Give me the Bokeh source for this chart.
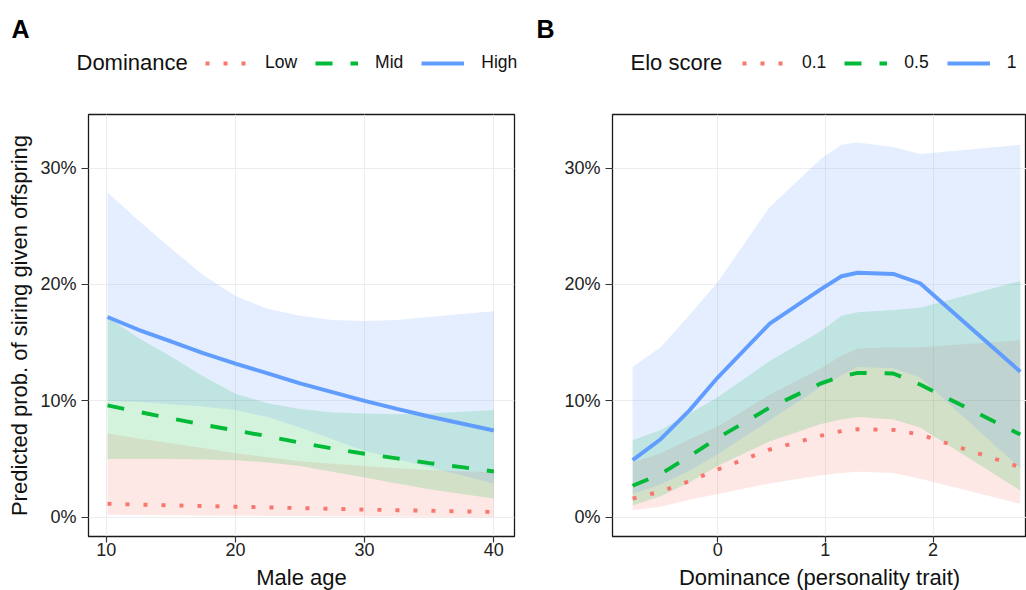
from bokeh.plotting import figure
from bokeh.models import (ColumnDataSource, Range1d, FixedTicker, NumeralTickFormatter,
                          Legend, LegendItem, Label)
from bokeh.layouts import row, column
from bokeh.embed import file_html
from bokeh.resources import INLINE

# ---------------- Panel A: male age ----------------
age = [10.1, 12.5, 15, 17.5, 20, 22.5, 25, 27.5, 30, 32.5, 35, 37.5, 40]
# predicted probability (%) and 95% band, by dominance level
a_low      = [1.15, 1.08, 1.02, 0.96, 0.90, 0.84, 0.78, 0.72, 0.65, 0.60, 0.55, 0.50, 0.45]
a_low_lo   = [0.20, 0.18, 0.16, 0.15, 0.13, 0.11, 0.10, 0.08, 0.06, 0.05, 0.03, 0.02, 0.00]
a_low_hi   = [7.20, 6.75, 6.35, 5.95, 5.50, 5.15, 4.80, 4.60, 4.40, 4.20, 4.05, 3.95, 3.87]
a_mid      = [9.60, 9.05, 8.50, 7.95, 7.45, 6.95, 6.40, 5.90, 5.45, 5.05, 4.65, 4.30, 3.93]
a_mid_lo   = [5.00, 5.00, 5.00, 4.95, 4.90, 4.70, 4.40, 3.90, 3.40, 2.90, 2.40, 2.00, 1.60]
a_mid_hi   = [17.2, 15.4, 13.8, 12.1, 10.6, 9.80, 9.30, 9.00, 8.90, 8.85, 8.90, 9.05, 9.20]
a_high     = [17.2, 16.1, 15.1, 14.1, 13.2, 12.35, 11.5, 10.75, 10.0, 9.30, 8.65, 8.05, 7.45]
a_high_lo  = [10.0, 9.90, 9.70, 9.50, 9.20, 8.60, 7.70, 6.70, 5.70, 5.00, 4.30, 3.60, 2.90]
a_high_hi  = [27.9, 25.5, 23.1, 20.8, 19.0, 17.9, 17.3, 16.95, 16.85, 16.95, 17.2, 17.45, 17.7]
a_levels = ["Low", "Mid", "High"]

# ---------------- Panel B: dominance trait ----------------
dom = [-0.79, -0.53, -0.26, 0.0, 0.48, 0.96, 1.15, 1.30, 1.63, 1.88, 2.81]
b_01     = [1.6, 2.2, 3.1, 4.1, 5.8, 7.0, 7.4, 7.55, 7.5, 7.1, 4.3]
b_01_lo  = [0.6, 0.9, 1.5, 2.0, 2.9, 3.6, 3.8, 3.9, 3.8, 3.3, 1.15]
b_01_hi  = [4.7, 5.5, 6.7, 7.8, 10.5, 12.8, 13.9, 14.5, 14.6, 14.6, 15.2]
b_05     = [2.7, 3.7, 5.25, 6.8, 9.4, 11.5, 12.1, 12.4, 12.35, 11.4, 7.1]
b_05_lo  = [1.0, 1.8, 3.0, 4.4, 6.5, 8.0, 8.4, 8.6, 8.4, 7.7, 2.3]
b_05_hi  = [6.6, 7.5, 8.9, 10.3, 13.4, 16.0, 17.3, 17.6, 17.8, 18.0, 20.3]
b_1      = [4.9, 6.7, 9.2, 12.0, 16.6, 19.6, 20.7, 21.0, 20.9, 20.1, 12.5]
b_1_lo   = [2.0, 2.8, 4.0, 5.4, 8.3, 11.2, 12.2, 12.9, 12.8, 12.0, 4.2]
b_1_hi   = [12.9, 14.6, 17.4, 20.2, 26.6, 30.8, 32.0, 32.2, 31.8, 31.2, 32.0]
b_levels = ["0.1", "0.5", "1"]

y_ticks = [0, 0.1, 0.2, 0.3]
a_x_ticks = [10, 20, 30, 40]
b_x_ticks = [0, 1, 2]

COLORS = ["#F8766D", "#00BA38", "#619CFF"]
DASHES = ["4 14", "17 18", "solid"]
FONT = "Liberation Sans"
LW = 3.9


def pct(v):
    return [x / 100.0 for x in v]


def make_panel(xs, series, levels, xlabel, ylabel, xr, xticks, fw, bl, br):
    p = figure(frame_width=fw, frame_height=422, output_backend="svg",
               toolbar_location=None,
               x_range=Range1d(*xr), y_range=Range1d(-0.0166, 0.346),
               min_border_left=bl, min_border_right=br, min_border_top=2,
               min_border_bottom=40, background_fill_color="white",
               border_fill_color="white")
    p.outline_line_color = "#1a1a1a"
    p.outline_line_width = 1.3
    p.outline_line_alpha = 1.0

    for ax in (p.xaxis[0], p.yaxis[0]):
        ax.axis_line_color = None
        ax.major_tick_in = 0
        ax.major_tick_line_color = "#333333"
        ax.major_tick_line_width = 1.2
        ax.minor_tick_line_color = None
        ax.major_label_text_font = FONT
        ax.major_label_text_font_size = "18px"
        ax.major_label_text_color = "#222222"
        ax.axis_label_text_font = FONT
        ax.axis_label_text_font_size = "22px"
        ax.axis_label_text_font_style = "normal"
        ax.axis_label_text_color = "#111111"
    p.xaxis.major_tick_out = 6
    p.xaxis.major_label_standoff = 0
    p.xaxis.axis_label_standoff = 6
    p.yaxis.major_tick_out = 7
    p.yaxis.major_label_standoff = 5
    p.yaxis.axis_label_standoff = 5
    p.xaxis.ticker = FixedTicker(ticks=xticks)
    p.yaxis.ticker = FixedTicker(ticks=y_ticks)
    p.yaxis.formatter = NumeralTickFormatter(format="0%")
    p.xaxis.axis_label = xlabel
    if ylabel:
        p.yaxis.axis_label = ylabel
    for g in (p.xgrid[0], p.ygrid[0]):
        g.grid_line_color = "#EDEDED"
        g.grid_line_width = 1

    for (mean, lo, hi), col in zip(series, COLORS):
        src = ColumnDataSource(dict(x=xs, lo=pct(lo), hi=pct(hi)))
        p.varea(x="x", y1="lo", y2="hi", source=src, fill_color=col, fill_alpha=0.17)
    for (mean, lo, hi), col, dash in zip(series, COLORS, DASHES):
        src = ColumnDataSource(dict(x=xs, y=pct(mean)))
        p.line(x="x", y="y", source=src, line_color=col, line_width=LW,
               line_dash=dash, line_cap="butt")
    return p


# ---------------- header with panel tags and legends ----------------
hdr = figure(width=1026, height=112, output_backend="svg", toolbar_location=None,
             x_range=Range1d(0, 1026), y_range=Range1d(112, 0),
             x_axis_type=None, y_axis_type=None, min_border=0,
             outline_line_color=None, background_fill_color="white",
             border_fill_color="white")
hdr.xgrid.visible = False
hdr.ygrid.visible = False

NAN = float("nan")


def add_legend(levels, title, tag, tag_x, title_x, key_x):
    items = []
    for col, dash, lab in zip(COLORS, DASHES, levels):
        # legend-only renderer (no visible data) carrying the line style
        r = hdr.line(x="x", y="y", source=ColumnDataSource(dict(x=[NAN], y=[NAN])),
                     line_color=col, line_width=LW, line_dash=dash, line_cap="butt")
        items.append(LegendItem(label=lab, renderers=[r]))
    leg = Legend(items=items, orientation="horizontal", location=(key_x, 39),
                 padding=0, margin=0, spacing=18, label_standoff=17,
                 glyph_width=43, glyph_height=20, label_height=20,
                 label_text_font=FONT, label_text_font_size="17.5px",
                 label_text_color="#111111",
                 border_line_color=None, background_fill_alpha=0)
    hdr.add_layout(leg)
    hdr.add_layout(Label(x=title_x, y=62, text=title, text_font=FONT,
                         text_font_size="22px", text_baseline="middle",
                         text_align="left", text_color="#111111"))
    hdr.add_layout(Label(x=tag_x, y=28, text=tag, text_font=FONT,
                         text_font_size="25px", text_font_style="bold",
                         text_baseline="middle", text_align="left",
                         text_color="black"))


add_legend(a_levels, "Dominance", "A", 11, 76, 205)
add_legend(b_levels, "Elo score", "B", 536, 630, 742)

pa = make_panel(age,
                [(a_low, a_low_lo, a_low_hi), (a_mid, a_mid_lo, a_mid_hi),
                 (a_high, a_high_lo, a_high_hi)],
                a_levels, "Male age", "Predicted prob. of siring given offspring",
                (8.63, 41.6), a_x_ticks, 426, 88, 16)

pb = make_panel(dom,
                [(b_01, b_01_lo, b_01_hi), (b_05, b_05_lo, b_05_hi),
                 (b_1, b_1_lo, b_1_hi)],
                b_levels, "Dominance (personality trait)", None,
                (-0.977, 2.868), b_x_ticks, 414, 82, 0)

layout = column(hdr, row(pa, pb, spacing=0), spacing=0)
open("out.html", "w").write(file_html(layout, INLINE))
